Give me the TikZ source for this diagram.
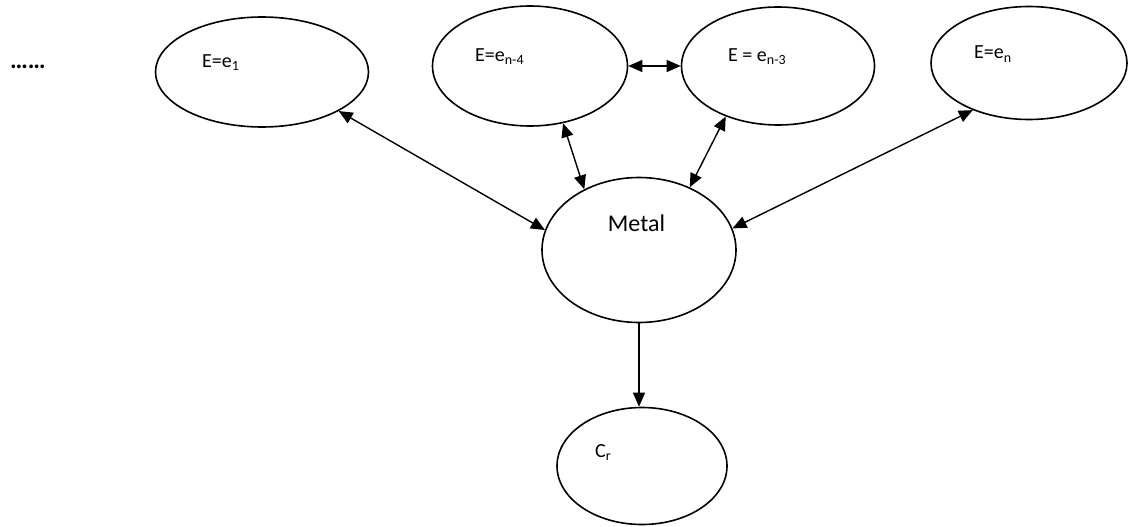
\documentclass[tikz,border=0pt]{standalone}
\usepackage{fontspec}
\setmainfont{Carlito}
\usetikzlibrary{shapes.geometric,arrows.meta}
\begin{document}
\begin{tikzpicture}[x=1pt,y=-1pt,
  ell/.style={draw=black,line width=1.6pt,ellipse,inner sep=0pt},
  lbl/.style={anchor=base west,inner sep=0pt,font=\fontsize{20}{24}\selectfont},
  big/.style={anchor=base,inner sep=0pt,font=\fontsize{24}{28}\selectfont},
  conn/.style={line width=1.4pt,{Triangle[length=14pt,width=12pt]}-{Triangle[length=14pt,width=12pt]}},
  oneway/.style={line width=1.4pt,-{Triangle[length=14pt,width=12pt]}}]
\useasboundingbox (0,0) rectangle (1129,527);
\node[ell,minimum width=213pt,minimum height=110pt] (e1) at (262,72) {};
\node[ell,minimum width=195pt,minimum height=120pt] (e4) at (530,66) {};
\node[ell,minimum width=193pt,minimum height=118pt] (e3) at (778,66) {};
\node[ell,minimum width=196pt,minimum height=113pt] (en) at (1029,63) {};
\node[ell,minimum width=194pt,minimum height=145pt] (metal) at (639,250) {};
\node[ell,minimum width=170pt,minimum height=117pt] (cr) at (642,466) {};
\node[lbl,font=\fontsize{25}{28}\selectfont] (dots) at (10,68) {\textbf{……}};
\node[lbl] (t1) at (202,67) {E=e\textsubscript{1}};
\node[lbl] (t4) at (475,61) {E=e\textsubscript{n-4}};
\node[lbl] (t3) at (728,61) {E = e\textsubscript{n-3}};
\node[lbl] (tn) at (974,59) {E=e\textsubscript{n}};
\node[big] (tm) at (636.5,231) {Metal};
\node[lbl] (tc) at (595,457) {C\textsubscript{r}};
\draw[conn] (e1.-27) -- (metal.168);
\draw[conn] (e4.-60) -- (metal.132);
\draw[conn] (e3.-136) -- (metal.51);
\draw[conn] (en.-140) -- (metal.13);
\draw[conn] (e4.east) -- (e3.west);
\draw[oneway] (metal.south) -- (metal.south |- cr.north);
\end{tikzpicture}
\end{document}
